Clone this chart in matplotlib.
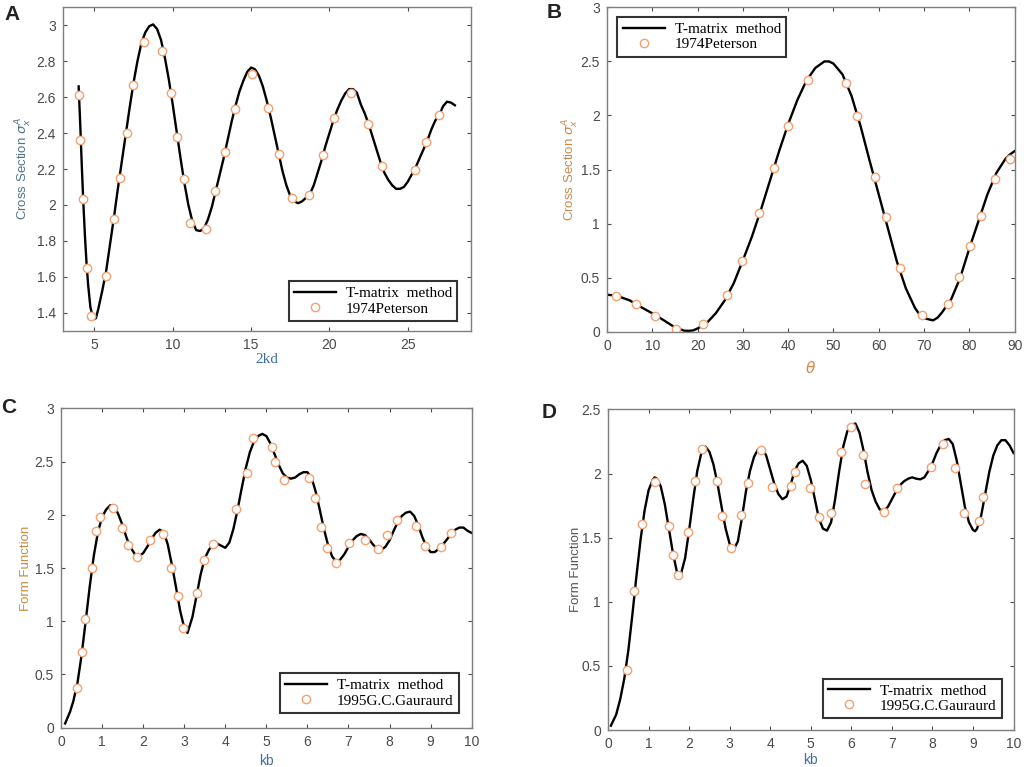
import matplotlib
matplotlib.use("Agg")
import matplotlib.pyplot as plt
from matplotlib.ticker import FixedLocator, FuncFormatter

# ---------------- Panel A data ----------------
a_curve_x = [4.0, 4.1, 4.2, 4.3, 4.4, 4.5, 4.6, 4.75, 4.9, 5.0, 5.1, 5.25, 5.5, 5.75, 6.0, 6.25, 6.5, 6.75, 7.0,
             7.25, 7.5, 7.75, 8.0, 8.25, 8.5, 8.75, 9.0, 9.25, 9.5, 9.75, 10.0, 10.25, 10.5, 10.75,
             11.0, 11.25, 11.5, 11.75, 12.0, 12.25, 12.5, 12.75, 13.0, 13.25, 13.5, 13.75, 14.0,
             14.25, 14.5, 14.75, 15.0, 15.25, 15.5, 15.75, 16.0, 16.25, 16.5, 16.75, 17.0, 17.25,
             17.5, 17.75, 18.0, 18.25, 18.5, 18.75, 19.0, 19.25, 19.5, 19.75, 20.0, 20.25, 20.5,
             20.75, 21.0, 21.25, 21.5, 21.75, 22.0, 22.25, 22.5, 22.75, 23.0, 23.25, 23.5, 23.75,
             24.0, 24.25, 24.5, 24.75, 25.0, 25.25, 25.5, 25.75, 26.0, 26.25, 26.5, 26.75, 27.0,
             27.25, 27.5, 27.75, 28.0]
a_curve_y = [2.66, 2.45, 2.22, 2.01, 1.83, 1.68, 1.56, 1.43, 1.38, 1.365, 1.37, 1.42, 1.52, 1.63, 1.78, 1.93, 2.09,
             2.24, 2.39, 2.54, 2.68, 2.80, 2.90, 2.96, 2.995, 3.005, 2.98, 2.92, 2.82, 2.70, 2.56,
             2.41, 2.26, 2.12, 2.00, 1.91, 1.86, 1.855, 1.87, 1.92, 1.99, 2.08, 2.17, 2.26, 2.36,
             2.46, 2.55, 2.63, 2.69, 2.74, 2.765, 2.755, 2.72, 2.66, 2.58, 2.49, 2.39, 2.29, 2.19,
             2.11, 2.05, 2.02, 2.01, 2.02, 2.04, 2.06, 2.11, 2.18, 2.25, 2.33, 2.40, 2.47, 2.53,
             2.58, 2.62, 2.645, 2.645, 2.625, 2.56, 2.51, 2.45, 2.38, 2.31, 2.24, 2.18, 2.14, 2.11,
             2.09, 2.09, 2.10, 2.13, 2.17, 2.21, 2.26, 2.31, 2.36, 2.42, 2.47, 2.50, 2.55, 2.575,
             2.57, 2.555]
a_pts_x = [4.02, 4.09, 4.30, 4.53, 4.81, 5.74, 6.25, 6.61, 7.06, 7.48, 8.20, 9.33, 9.86, 10.30, 10.73,
           11.11, 12.13, 12.70, 13.36, 13.95, 15.03, 16.09, 16.75, 17.58, 18.72, 19.57, 20.31, 21.39,
           22.48, 23.37, 25.45, 26.19, 26.99]
a_pts_y = [2.613, 2.364, 2.032, 1.650, 1.380, 1.606, 1.923, 2.149, 2.401, 2.666, 2.909, 2.857, 2.622,
           2.379, 2.142, 1.901, 1.864, 2.077, 2.297, 2.535, 2.731, 2.540, 2.284, 2.040, 2.053, 2.277,
           2.485, 2.622, 2.451, 2.218, 2.195, 2.349, 2.503]

# ---------------- Panel B data ----------------
b_curve_x = [0, 2, 3, 5, 7, 10, 12, 15, 17, 18, 19, 20, 22, 24, 26, 28, 30, 32, 34, 36, 38, 40, 42, 44,
             46, 48, 49, 50, 52, 54, 56, 58, 60, 62, 64, 66, 68, 69, 70, 71, 72, 73, 74, 76, 78, 80,
             82, 84, 86, 88, 89, 90]
b_curve_y = [0.342, 0.335, 0.32, 0.29, 0.24, 0.17, 0.12, 0.04, 0.01, 0.008, 0.012, 0.03, 0.08, 0.17,
             0.29, 0.45, 0.66, 0.88, 1.13, 1.40, 1.67, 1.92, 2.14, 2.32, 2.44, 2.50, 2.50, 2.48, 2.38,
             2.18, 1.90, 1.58, 1.27, 0.96, 0.65, 0.40, 0.22, 0.16, 0.125, 0.115, 0.105, 0.13, 0.18,
             0.30, 0.50, 0.77, 1.02, 1.27, 1.47, 1.60, 1.64, 1.67]
b_pts_x = [1.99, 6.48, 10.67, 15.3, 21.3, 26.6, 29.7, 33.6, 36.8, 39.9, 44.4, 52.7, 55.3, 59.2, 61.6,
           64.7, 69.5, 75.4, 77.8, 80.2, 82.5, 85.6, 89.0]
b_pts_y = [0.330, 0.259, 0.145, 0.025, 0.068, 0.339, 0.654, 1.095, 1.511, 1.903, 2.328, 2.297, 1.998,
           1.428, 1.058, 0.586, 0.154, 0.259, 0.503, 0.792, 1.070, 1.409, 1.600]

# ---------------- Panel C data ----------------
c_curve_x = [0.10, 0.22, 0.3, 0.4, 0.5, 0.6, 0.7, 0.8, 0.9, 1.0, 1.1, 1.2, 1.3, 1.4, 1.5, 1.6, 1.7, 1.8,
             1.9, 2.0, 2.1, 2.2, 2.3, 2.4, 2.5, 2.6, 2.7, 2.8, 2.9, 3.0, 3.08, 3.2, 3.3, 3.4, 3.5, 3.6,
             3.7, 3.8, 3.9, 4.0, 4.1, 4.2, 4.3, 4.4, 4.5, 4.6, 4.7, 4.8, 4.9, 5.0, 5.1, 5.2, 5.3,
             5.4, 5.5, 5.6, 5.7, 5.8, 5.9, 6.0, 6.1, 6.2, 6.3, 6.4, 6.5, 6.6, 6.7, 6.8, 6.9, 7.0,
             7.1, 7.2, 7.3, 7.4, 7.5, 7.6, 7.7, 7.8, 7.9, 8.0, 8.1, 8.2, 8.3, 8.4, 8.5, 8.6, 8.7,
             8.8, 8.9, 9.0, 9.1, 9.2, 9.3, 9.4, 9.5, 9.6, 9.7, 9.8, 9.9, 10.0]
c_curve_y = [0.04, 0.15, 0.25, 0.42, 0.68, 1.00, 1.33, 1.62, 1.84, 1.98, 2.05, 2.09, 2.08, 2.00, 1.90,
             1.78, 1.69, 1.63, 1.61, 1.64, 1.70, 1.77, 1.83, 1.86, 1.84, 1.72, 1.53, 1.32, 1.10, 0.94,
             0.89, 1.04, 1.24, 1.44, 1.59, 1.67, 1.72, 1.73, 1.71, 1.69, 1.74, 1.87, 2.05, 2.25, 2.44,
             2.59, 2.69, 2.74, 2.76, 2.74, 2.67, 2.57, 2.47, 2.39, 2.35, 2.34, 2.35, 2.38, 2.40, 2.40,
             2.35, 2.22, 2.05, 1.87, 1.72, 1.61, 1.56, 1.58, 1.63, 1.70, 1.76, 1.80, 1.82, 1.81, 1.77,
             1.72, 1.68, 1.67, 1.70, 1.76, 1.85, 1.93, 1.99, 2.02, 2.03, 1.99, 1.90, 1.79, 1.70, 1.65,
             1.65, 1.68, 1.72, 1.77, 1.82, 1.86, 1.88, 1.88, 1.85, 1.83]
c_pts_x = [0.39, 0.50, 0.58, 0.76, 0.86, 0.94, 1.26, 1.48, 1.62, 1.84, 2.17, 2.48, 2.69, 2.84, 2.96,
           3.30, 3.47, 3.71, 4.27, 4.52, 4.68, 5.14, 5.21, 5.43, 6.05, 6.19, 6.32, 6.48, 6.70, 7.02,
           7.40, 7.71, 7.95, 8.18, 8.64, 8.86, 9.25, 9.49]
c_pts_y = [0.370, 0.711, 1.021, 1.503, 1.845, 1.982, 2.061, 1.873, 1.716, 1.607, 1.763, 1.823, 1.497,
           1.234, 0.936, 1.262, 1.572, 1.723, 2.051, 2.390, 2.718, 2.640, 2.499, 2.327, 2.343, 2.155,
           1.888, 1.685, 1.547, 1.732, 1.760, 1.682, 1.807, 1.951, 1.898, 1.710, 1.694, 1.832]

# ---------------- Panel D data ----------------
d_curve_x = [0.07, 0.2, 0.3, 0.4, 0.5, 0.6, 0.7, 0.8, 0.9, 1.0, 1.1, 1.15, 1.2, 1.3, 1.4, 1.5, 1.6, 1.7,
             1.75, 1.8, 1.9, 2.0, 2.1, 2.2, 2.3, 2.4, 2.5, 2.6, 2.7, 2.8, 2.9, 3.0, 3.1, 3.2, 3.3, 3.4,
             3.5, 3.6, 3.7, 3.8, 3.9, 4.0, 4.1, 4.2, 4.3, 4.4, 4.5, 4.6, 4.7, 4.8, 4.9, 5.0, 5.1,
             5.2, 5.3, 5.4, 5.5, 5.6, 5.7, 5.8, 5.9, 6.0, 6.1, 6.2, 6.3, 6.4, 6.5, 6.6, 6.7, 6.8,
             6.9, 7.0, 7.1, 7.2, 7.3, 7.4, 7.5, 7.6, 7.7, 7.8, 7.9, 8.0, 8.1, 8.2, 8.3, 8.4, 8.5,
             8.6, 8.7, 8.8, 8.9, 9.0, 9.05, 9.1, 9.2, 9.3, 9.4, 9.5, 9.6, 9.7, 9.8, 9.9, 10.0]
d_curve_y = [0.034, 0.12, 0.24, 0.40, 0.62, 0.90, 1.20, 1.48, 1.71, 1.87, 1.95, 1.97, 1.96, 1.90, 1.76,
             1.57, 1.38, 1.23, 1.20, 1.22, 1.34, 1.56, 1.80, 2.02, 2.16, 2.21, 2.17, 2.07, 1.92, 1.74,
             1.57, 1.45, 1.41, 1.47, 1.65, 1.86, 2.02, 2.13, 2.19, 2.20, 2.14, 2.03, 1.92, 1.84, 1.80,
             1.82, 1.91, 2.02, 2.08, 2.10, 2.06, 1.95, 1.80, 1.65, 1.57, 1.555, 1.62, 1.80, 2.02, 2.21,
             2.33, 2.38, 2.39, 2.32, 2.18, 2.01, 1.87, 1.78, 1.72, 1.71, 1.74, 1.80, 1.86, 1.91, 1.94,
             1.96, 1.97, 1.96, 1.955, 1.97, 2.02, 2.08, 2.16, 2.22, 2.26, 2.27, 2.23, 2.10, 1.92, 1.74,
             1.62, 1.56, 1.55, 1.57, 1.67, 1.84, 2.01, 2.14, 2.22, 2.26, 2.26, 2.22, 2.16]
d_pts_x = [0.46, 0.65, 0.83, 1.15, 1.51, 1.59, 1.73, 1.98, 2.14, 2.32, 2.69, 2.81, 3.03, 3.28, 3.45,
           3.76, 4.05, 4.52, 4.61, 4.98, 5.19, 5.51, 5.75, 6.00, 6.28, 6.34, 6.80, 7.12, 7.97, 8.27,
           8.56, 8.78, 9.16, 9.25]
d_pts_y = [0.470, 1.086, 1.609, 1.931, 1.593, 1.362, 1.206, 1.544, 1.944, 2.191, 1.944, 1.666, 1.416,
           1.679, 1.923, 2.183, 1.892, 1.905, 2.014, 1.889, 1.658, 1.689, 2.165, 2.360, 2.144, 1.915,
           1.700, 1.884, 2.048, 2.230, 2.045, 1.692, 1.629, 1.814]

# ---------------- labels ----------------
line_label = "T-matrix  method"
pete_label = "1974Peterson"
gau_label = "1995G.C.Gauraurd"

plt.rcParams['font.family'] = ['Liberation Sans', 'DejaVu Sans']
plt.rcParams['mathtext.fontset'] = 'dejavusans'

fig = plt.figure(figsize=(10.24, 7.67), dpi=100)

tick_col = '#4a4a4a'
spine_col = '#7f7f7f'
mk_col = '#f5a06e'


def fmt(v, pos):
    return '%g' % v


def style(ax, xlim, ylim, xticks, yticks):
    ax.set_xlim(*xlim)
    ax.set_ylim(*ylim)
    ax.xaxis.set_major_locator(FixedLocator(xticks))
    ax.yaxis.set_major_locator(FixedLocator(yticks))
    ax.xaxis.set_major_formatter(FuncFormatter(fmt))
    ax.yaxis.set_major_formatter(FuncFormatter(fmt))
    ax.tick_params(direction='in', top=True, right=True, length=3, width=0.8,
                   colors=tick_col, labelsize=10, pad=5)
    for s in ax.spines.values():
        s.set_color(spine_col)
        s.set_linewidth(1.0)


def draw(ax, cx, cy, px, py, lab, loc, anchor):
    ax.plot(cx, cy, color='black', lw=1.7, label=line_label)
    ax.plot(px, py, linestyle='none', marker='o', ms=6, mfc='white', mec=mk_col,
            mew=1.0, label=lab)
    leg = ax.legend(loc=loc, bbox_to_anchor=anchor, prop={'family': 'Liberation Serif', 'size': 11},
                    frameon=True, fancybox=False, handlelength=2.75, borderpad=0.35,
                    labelspacing=0.1, handletextpad=0.65, borderaxespad=0.0)
    leg.get_frame().set_edgecolor('black')
    leg.get_frame().set_linewidth(1.5)


# A
axA = fig.add_axes([0.0615, 0.5688, 0.398, 0.4216])
draw(axA, a_curve_x, a_curve_y, a_pts_x, a_pts_y, pete_label, 'lower right', (0.968, 0.030))
style(axA, (3, 29), (1.3, 3.1), [5, 10, 15, 20, 25], [1.4, 1.6, 1.8, 2.0, 2.2, 2.4, 2.6, 2.8, 3.0])
axA.set_ylabel(r'Cross Section $\sigma_x^A$', color='#52748a', fontsize=9.5, labelpad=2)
axA.set_xlabel('2kd', color='#3f6ea0', fontsize=11, family='Liberation Serif', labelpad=1)

# B
axB = fig.add_axes([0.5928, 0.5675, 0.398, 0.4229])
draw(axB, b_curve_x, b_curve_y, b_pts_x, b_pts_y, pete_label, 'upper left', (0.025, 0.97))
style(axB, (0, 90), (0, 3), [0, 10, 20, 30, 40, 50, 60, 70, 80, 90], [0, 0.5, 1, 1.5, 2, 2.5, 3])
axB.set_ylabel(r'Cross Section $\sigma_x^A$', color='#c98a4e', fontsize=9.5, labelpad=0)
axB.set_xlabel(r'$\theta$', color='#d08a50', fontsize=11, labelpad=5)

# C
axC = fig.add_axes([0.0596, 0.0512, 0.401, 0.4164])
draw(axC, c_curve_x, c_curve_y, c_pts_x, c_pts_y, gau_label, 'lower right', (0.969, 0.046))
style(axC, (0, 10), (0, 3), list(range(0, 11)), [0, 0.5, 1, 1.5, 2, 2.5, 3])
axC.set_ylabel('Form Function', color='#c78a3e', fontsize=9.5, labelpad=2)
axC.set_xlabel('kb', color='#3f6ea0', fontsize=10, labelpad=4)

# D
axD = fig.add_axes([0.5938, 0.0482, 0.396, 0.418])
draw(axD, d_curve_x, d_curve_y, d_pts_x, d_pts_y, gau_label, 'lower right', (0.971, 0.037))
style(axD, (0, 10), (0, 2.5), list(range(0, 11)), [0, 0.5, 1, 1.5, 2, 2.5])
axD.set_ylabel('Form Function', color='#555555', fontsize=9.5, labelpad=0)
axD.set_xlabel('kb', color='#3f6ea0', fontsize=10, labelpad=1.5)

# panel letters
for txt, x, y in [('A', 12, 14), ('B', 554, 12), ('C', 9, 407), ('D', 549, 413)]:
    fig.text(x / 1024, 1 - y / 767, txt, fontsize=15, fontweight='bold', ha='center', va='center',
             color='#222222')

fig.savefig('out.png', dpi=100)
